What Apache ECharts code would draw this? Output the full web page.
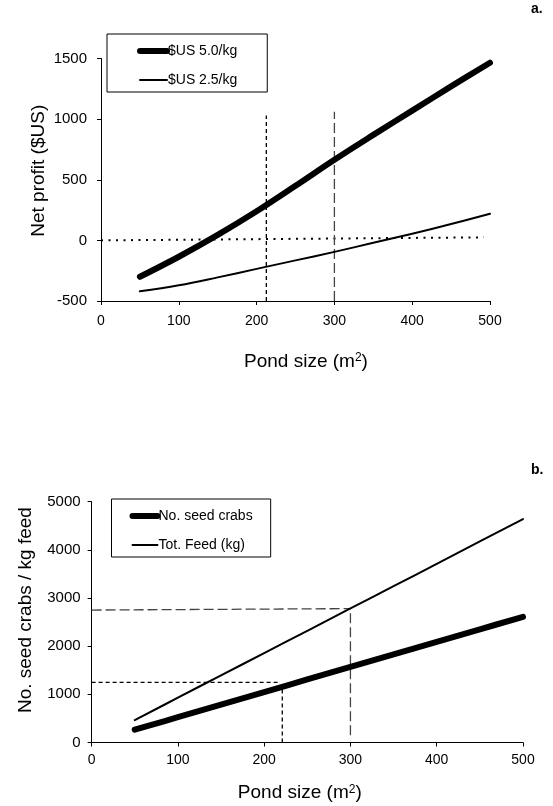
<!DOCTYPE html>
<html><head><meta charset="utf-8">
<script src="https://cdn.jsdelivr.net/npm/echarts@6/dist/echarts.min.js"></script>
<style>html,body{margin:0;padding:0;background:#fff}#c{width:553px;height:806px}</style>
</head><body><div id="c"></div>
<script>
// ---- data ----
const pondSize   = [50, 100, 150, 200, 250, 300, 350, 400, 450, 500];
const profitHigh = [-300, -135, 45, 240, 450, 665, 870, 1070, 1270, 1465];
const profitLow  = [-420, -370, -305, -235, -165, -95, -20, 55, 135, 220];
const seedCrabs  = [265, 525, 785, 1045, 1310, 1570, 1830, 2090, 2350, 2610];
const totFeed    = [465, 930, 1395, 1855, 2320, 2785, 3245, 3710, 4175, 4640];
// reference (guide) lines, in data coordinates
const zeroRef = [[0, 0], [492, 25]];
const refA1 = [[212.5, -500], [212.5, 1030]];
const refA2 = [[300, -500], [300, 1060]];
const refB1h = [[0, 1250], [217, 1250]];
const refB1v = [[221, 0], [221, 1150]];
const refB2h = [[0, 2750], [300, 2780]];
const refB2v = [[300, 150], [300, 2780]];
const namesA = ['$US 5.0/kg', '$US 2.5/kg'];
const namesB = ['No. seed crabs', 'Tot. Feed (kg)'];

const F = "'Liberation Sans', Arial, Helvetica, sans-serif";
const pair = (xs, ys) => xs.map((x, i) => [x, ys[i]]);

function xAx(grid, gap, pad) {
  return {
    type: 'value', gridIndex: grid, min: 0, max: 500, interval: 100,
    axisLine: { show: true, onZero: false, lineStyle: { color: '#000', width: 1 } },
    axisTick: { show: true, length: 4, lineStyle: { color: '#000' } },
    axisLabel: { fontSize: 14, color: '#000', fontFamily: F, margin: grid === 0 ? 13 : 11, formatter: v => String(v) },
    splitLine: { show: false },
    name: '{a|Pond size (m}{s|2}{a|)}', nameLocation: 'middle', nameGap: gap, nameMoveOverlap: false,
    nameTextStyle: {
      padding: pad,
      rich: {
        a: { fontSize: 19, fontFamily: F, color: '#000' },
        s: { fontSize: 12, fontFamily: F, color: '#000', verticalAlign: 'top' }
      }
    }
  };
}
function yAx(grid, min, max, interval, name, gap, pad, margin) {
  return {
    type: 'value', gridIndex: grid, min: min, max: max, interval: interval,
    axisLine: { show: true, onZero: false, lineStyle: { color: '#000', width: 1 } },
    axisTick: { show: true, length: 4, lineStyle: { color: '#000' } },
    axisLabel: { fontSize: 15, color: '#000', fontFamily: F, margin: margin, formatter: v => String(v) },
    splitLine: { show: false },
    name: name, nameLocation: 'middle', nameGap: gap, nameMoveOverlap: false,
    nameTextStyle: { fontSize: 19, fontFamily: F, color: '#000', padding: pad }
  };
}
function main(name, xi, data, w) {
  return {
    type: 'line', name: name, xAxisIndex: xi, yAxisIndex: xi, data: data,
    symbol: 'none', showSymbol: false, smooth: 0.4,
    lineStyle: { color: '#000', width: w, cap: 'round', join: 'round' },
    itemStyle: { color: '#000' }, z: 3
  };
}
function guide(xi, data, dash, color, w) {
  return {
    type: 'line', xAxisIndex: xi, yAxisIndex: xi, data: data, symbol: 'none',
    silent: true, lineStyle: { color: color, width: w, type: dash }, z: 2
  };
}
function legend(left, top, names, pad, iw) {
  return {
    orient: 'vertical', left: left, top: top, selectedMode: false,
    data: [
      { name: names[0], lineStyle: { width: 6, cap: 'round' }, itemStyle: { opacity: 0 } },
      { name: names[1], lineStyle: { width: 2 }, itemStyle: { opacity: 0 } }
    ],
    itemWidth: iw, itemHeight: 14, itemGap: 15, padding: pad,
    borderColor: '#000', borderWidth: 1, borderRadius: 0,
    textStyle: { fontSize: 14, color: '#000', fontFamily: F, padding: [0, 0, 0, -4] }
  };
}

const chart = echarts.init(document.getElementById('c'), null, { renderer: 'canvas' });
chart.setOption({
  animation: false,
  backgroundColor: '#fff',
  grid: [
    { left: 101, right: 63, top: 58.5, bottom: 505 },
    { left: 91.6, right: 30, top: 501.7, bottom: 63.5 }
  ],
  xAxis: [xAx(0, 51, [0, 0, 0, 21]), xAx(1, 41, [0, 15, 0, 0])],
  yAxis: [
    yAx(0, -500, 1500, 500, 'Net profit ($US)', 52.5, [0, 0, 0, 18], 14),
    yAx(1, 0, 5000, 1000, 'No. seed crabs / kg feed', 56, [0, 0, 0, 24], 11)
  ],
  legend: [
    legend(107, 34, namesA, [10, 30, 5, 30], 27),
    legend(111.5, 499, namesB, [10, 18, 5, 18], 25)
  ],
  graphic: [
    { type: 'text', x: 531, y: 9, style: { text: 'a.', fontSize: 14, fontWeight: 'bold', fontFamily: F, fill: '#000', verticalAlign: 'middle' } },
    { type: 'text', x: 531, y: 470, style: { text: 'b.', fontSize: 14, fontWeight: 'bold', fontFamily: F, fill: '#000', verticalAlign: 'middle' } }
  ],
  series: [
    guide(0, zeroRef, [2, 5.5], '#000', 2),
    guide(0, refA1, [4, 3], '#000', 1.3),
    guide(0, refA2, [10, 4], '#444', 1.3),
    main(namesA[0], 0, pair(pondSize, profitHigh), 6),
    main(namesA[1], 0, pair(pondSize, profitLow), 2),
    guide(1, refB1h, [4, 3], '#000', 1.3),
    guide(1, refB1v, [4, 3], '#000', 1.3),
    guide(1, refB2h, [10, 4], '#444', 1.3),
    guide(1, refB2v, [10, 4], '#444', 1.3),
    main(namesB[0], 1, pair(pondSize, seedCrabs), 6),
    main(namesB[1], 1, pair(pondSize, totFeed), 2)
  ]
});
</script></body></html>
